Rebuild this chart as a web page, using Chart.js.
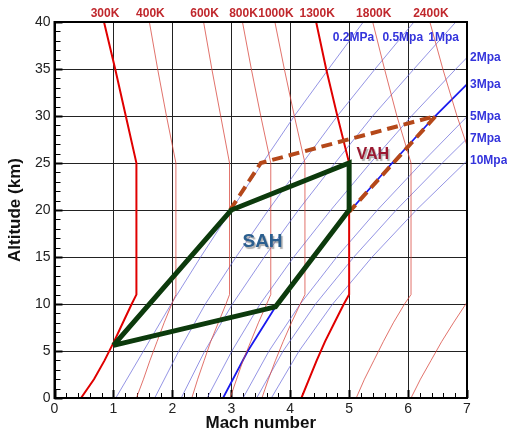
<!DOCTYPE html>
<html>
<head>
<meta charset="utf-8">
<script src="https://cdn.jsdelivr.net/npm/chart.js@4.4.1/dist/chart.umd.min.js"></script>
<style>
  html, body { margin: 0; padding: 0; background: #fff; }
</style>
</head>
<body>
<canvas id="chart" width="507" height="432"></canvas>
<script>
// total temperature curves: Mach number at each altitude (km)
const tempAlt = [0, 2, 4, 6, 8, 10, 11, 25, 30, 35, 40];
const mach300K = [0.45, 0.67, 0.85, 1.01, 1.16, 1.31, 1.39, 1.39, 1.21, 1.03, 0.84];
const mach400K = [1.39, 1.51, 1.62, 1.74, 1.86, 1.99, 2.06, 2.06, 1.90, 1.75, 1.61];
const mach600K = [2.33, 2.43, 2.54, 2.65, 2.78, 2.91, 2.97, 2.97, 2.82, 2.67, 2.53];
const mach800K = [2.98, 3.09, 3.20, 3.33, 3.46, 3.60, 3.67, 3.67, 3.50, 3.34, 3.19];
const mach1000K = [3.52, 3.63, 3.75, 3.88, 4.02, 4.17, 4.25, 4.25, 4.07, 3.90, 3.74];
const mach1300K = [4.19, 4.32, 4.45, 4.59, 4.75, 4.91, 5.00, 5.00, 4.80, 4.61, 4.44];
const mach1800K = [5.12, 5.26, 5.42, 5.58, 5.75, 5.94, 6.05, 6.05, 5.81, 5.60, 5.40];
const mach2400K = [6.05, 6.21, 6.39, 6.57, 6.77, 6.98, 7.10, 7.10, 6.83, 6.59, 6.37];
const tempLabels = ["300K", "400K", "600K", "800K", "1000K", "1300K", "1800K", "2400K"];

// total pressure curves
const presAlt = [0, 5, 10, 15, 20, 25, 30, 35, 40];
const mach02MPa = [1.04, 1.51, 1.98, 2.48, 3.00, 3.53, 4.07, 4.65, 5.24];
const mach05MPa = [1.70, 2.11, 2.56, 3.08, 3.63, 4.21, 4.80, 5.44, 6.10];
const mach1MPa = [2.15, 2.55, 3.02, 3.56, 4.14, 4.76, 5.40, 6.10, 6.81];
const mach2MPa = [2.59, 3.01, 3.49, 4.06, 4.69, 5.36, 6.06, 6.81, 7.59];
const mach3MPa = [2.86, 3.28, 3.78, 4.38, 5.03, 5.73, 6.46, 7.26];
const mach5MPa = [3.20, 3.64, 4.17, 4.79, 5.48, 6.23, 7.01];
const mach7MPa = [3.43, 3.88, 4.43, 5.08, 5.80, 6.58, 7.39];
const mach10MPa = [3.68, 4.15, 4.72, 5.39, 6.14, 6.96, 7.81];
const presLabels = ["0.2MPa", "0.5Mpa", "1Mpa", "2Mpa", "3Mpa", "5Mpa", "7Mpa", "10Mpa"];

// flight envelopes
const sahMach = [1, 3, 5, 5, 3.75, 1];
const sahAlt = [5.6, 20, 25, 20, 9.7, 5.6];
const vahMach = [2.98, 3.5, 6.47, 5];
const vahAlt = [20, 25, 30, 19.8];

const tempCurves = [mach300K, mach400K, mach600K, mach800K, mach1000K, mach1300K, mach1800K, mach2400K];
const presCurves = [mach02MPa, mach05MPa, mach1MPa, mach2MPa, mach3MPa, mach5MPa, mach7MPa, mach10MPa];

const pts = (xs, ys) => xs.map((m, i) => ({ x: m, y: ys[i] }));

Chart.defaults.font.family = 'Arial, "Liberation Sans", sans-serif';

const datasets = [];
tempCurves.forEach((c, i) => {
  const thick = tempLabels[i] === "300K" || tempLabels[i] === "1300K";
  datasets.push({
    data: pts(c, tempAlt),
    borderColor: thick ? "#e00000" : "rgba(215,70,60,0.85)",
    borderWidth: thick ? 2 : 0.9,
    order: 5,
  });
});
presCurves.forEach((c, i) => {
  const thick = presLabels[i] === "3Mpa";
  datasets.push({
    data: pts(c, presAlt),
    borderColor: thick ? "#1a1aee" : "rgba(95,95,215,0.75)",
    borderWidth: thick ? 1.8 : 0.9,
    order: 6,
  });
});
datasets.push({
  data: pts(vahMach, vahAlt),
  borderColor: "#b5481a",
  borderWidth: 4,
  borderDash: [11, 6],
  order: 2,
});
datasets.push({
  data: pts(sahMach, sahAlt),
  borderColor: "#0c3a0c",
  borderWidth: 5,
  borderJoinStyle: "miter",
  order: 1,
});
datasets.forEach((d) => {
  d.showLine = true;
  d.pointRadius = 0;
  d.fill = false;
  d.tension = 0;
  d.clip = 0;
});

// find x at a given y along a polyline, or y at a given x
function xAtY(xs, ys, h) {
  for (let i = 1; i < ys.length; i++) {
    if (h <= ys[i]) {
      const t = (h - ys[i - 1]) / (ys[i] - ys[i - 1]);
      return xs[i - 1] + t * (xs[i] - xs[i - 1]);
    }
  }
  return xs[xs.length - 1];
}
function yAtX(xs, ys, m) {
  for (let i = 1; i < xs.length; i++) {
    if (xs[i] >= m && xs[i - 1] < m) {
      const t = (m - xs[i - 1]) / (xs[i] - xs[i - 1]);
      return ys[i - 1] + t * (ys[i] - ys[i - 1]);
    }
  }
  return null;
}

const decor = {
  id: "decor",
  beforeDatasetsDraw(chart) {
    const { ctx, chartArea: a, scales: { x, y } } = chart;
    ctx.save();
    ctx.strokeStyle = "#000";
    for (let i = 0; i <= 35; i++) {
      const major = i % 5 === 0;
      const px = Math.round(x.getPixelForValue(i / 5)) + 0.5;
      ctx.lineWidth = major ? 2 : 1;
      ctx.beginPath();
      ctx.moveTo(px, a.bottom);
      ctx.lineTo(px, a.bottom - (major ? 8 : 5));
      ctx.stroke();
    }
    for (let v = 0; v <= 40; v++) {
      const major = v % 5 === 0;
      const py = Math.round(y.getPixelForValue(v)) + 0.5;
      ctx.lineWidth = major ? 2 : 1;
      ctx.beginPath();
      ctx.moveTo(a.left, py);
      ctx.lineTo(a.left + (major ? 8 : 6), py);
      ctx.stroke();
    }
    ctx.restore();
  },
  afterDatasetsDraw(chart) {
    const { ctx, chartArea: a, scales: { x, y } } = chart;
    ctx.save();
    // frame
    ctx.strokeStyle = "#000";
    ctx.lineWidth = 2;
    ctx.strokeRect(a.left, a.top, a.right - a.left, a.bottom - a.top);

    // temperature labels above the plot
    ctx.font = "bold 12px Arial, 'Liberation Sans', sans-serif";
    ctx.fillStyle = "#c0282d";
    ctx.textAlign = "center";
    ctx.textBaseline = "middle";
    tempCurves.forEach((c, i) => {
      ctx.fillText(tempLabels[i], x.getPixelForValue(c[c.length - 1]) + 1, a.top - 8);
    });

    // pressure labels
    ctx.font = "bold 12px Arial, 'Liberation Sans', sans-serif";
    ctx.fillStyle = "#3434dc";
    presCurves.forEach((c, i) => {
      const h = yAtX(c, presAlt, 7);
      if (h === null) {
        ctx.textAlign = "center";
        ctx.fillText(presLabels[i], x.getPixelForValue(xAtY(c, presAlt, 38.3)) + 2, y.getPixelForValue(38.3));
      } else {
        ctx.textAlign = "left";
        ctx.fillText(presLabels[i], a.right + 3, y.getPixelForValue(h));
      }
    });

    // envelope names
    ctx.textAlign = "center";
    ctx.shadowColor = "rgba(120,120,120,0.6)";
    ctx.shadowOffsetX = 1.5;
    ctx.shadowOffsetY = 1.5;
    ctx.shadowBlur = 1;
    ctx.font = "bold 19px Arial, 'Liberation Sans', sans-serif";
    ctx.fillStyle = "#2b5f8f";
    ctx.fillText("SAH", x.getPixelForValue(3.53), y.getPixelForValue(16.6));
    ctx.font = "bold 16px Arial, 'Liberation Sans', sans-serif";
    ctx.fillStyle = "#9a1830";
    ctx.fillText("VAH", x.getPixelForValue(5.4), y.getPixelForValue(25.85));
    ctx.restore();
  },
};

new Chart(document.getElementById("chart"), {
  type: "scatter",
  data: { datasets },
  options: {
    responsive: false,
    animation: false,
    layout: { padding: { top: 22, right: 40, left: 5, bottom: 0 } },
    plugins: { legend: { display: false }, tooltip: { enabled: false } },
    scales: {
      x: {
        type: "linear",
        min: 0,
        max: 7,
        ticks: { stepSize: 1, color: "#222", font: { size: 14 }, padding: 3 },
        grid: { color: "#222", lineWidth: 1, drawTicks: false },
        border: { color: "#000", width: 2 },
        title: { display: true, text: "Mach number", color: "#111", font: { size: 17, weight: "bold", lineHeight: 1 }, padding: 0 },
        afterFit: (s) => { s.height = 34; },
      },
      y: {
        type: "linear",
        min: 0,
        max: 40,
        ticks: { stepSize: 5, color: "#222", font: { size: 14 }, padding: 4 },
        grid: { color: "#222", lineWidth: 1, drawTicks: false },
        border: { color: "#000", width: 2 },
        title: { display: true, text: "Altitude (km)", color: "#111", font: { size: 17, weight: "bold" }, padding: 0 },
        afterFit: (s) => { s.width = 49.5; },
      },
    },
  },
  plugins: [decor],
});
</script>
</body>
</html>
